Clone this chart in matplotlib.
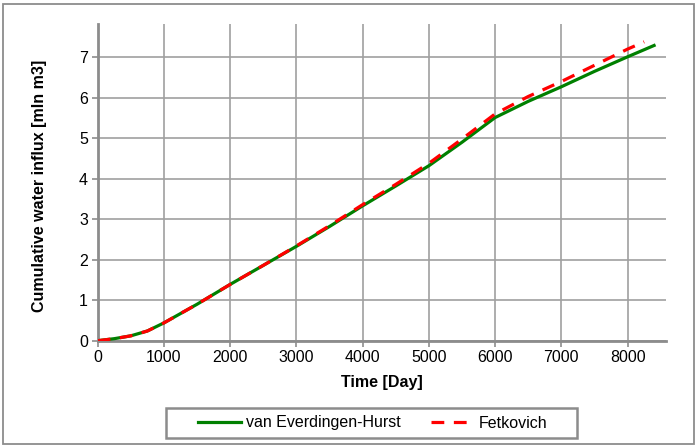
import matplotlib
matplotlib.use("Agg")
import matplotlib.pyplot as plt
from matplotlib.patches import Rectangle

plt.rcParams['font.family'] = ['Liberation Sans', 'DejaVu Sans']

# Data
veh_time = [0, 250, 500, 750, 1000, 1500, 2000, 2500, 3000, 3500, 4000, 4500,
            5000, 5500, 6000, 6500, 7000, 7500, 8000, 8400]
veh_influx = [0.0, 0.05, 0.12, 0.24, 0.44, 0.90, 1.39, 1.86, 2.33, 2.82, 3.33, 3.82,
              4.32, 4.90, 5.51, 5.91, 6.27, 6.65, 7.01, 7.29]
fet_time = [0, 250, 500, 750, 1000, 1500, 2000, 2500, 3000, 3500, 4000, 4500,
            5000, 5500, 6000, 6500, 7000, 7500, 8000, 8250]
fet_influx = [0.0, 0.05, 0.12, 0.24, 0.44, 0.90, 1.39, 1.86, 2.34, 2.84, 3.36, 3.86,
              4.38, 4.98, 5.60, 6.03, 6.40, 6.80, 7.20, 7.38]
x_ticks = [0, 1000, 2000, 3000, 4000, 5000, 6000, 7000, 8000]
y_ticks = [0, 1, 2, 3, 4, 5, 6, 7]
series_names = ["van Everdingen-Hurst", "Fetkovich"]

FS = 11.5
W, H = 696, 447
fig = plt.figure(figsize=(W / 100, H / 100), dpi=100)
fig.patches.append(Rectangle((3 / W, 3 / H), (W - 5) / W, (H - 7) / H,
                             transform=fig.transFigure, fill=False,
                             edgecolor='#8c8c8c', linewidth=1.3))

left, right, top, bottom = 97.7, 666, 24, 340.7
ax = fig.add_axes([left / W, (H - bottom) / H, (right - left) / W, (bottom - top) / H])

ax.plot(veh_time, veh_influx, color='#008000', lw=2.3, label=series_names[0], zorder=3)
ax.plot(fet_time, fet_influx, color='#ff0000', lw=2.3, dashes=(4, 3),
        label=series_names[1], zorder=4)

ax.set_xlim(0, 8580)
ax.set_ylim(0, 7.82)
ax.set_xticks(x_ticks)
ax.set_yticks(y_ticks)
ax.grid(True, color='#a0a0a0', lw=1.2)
ax.set_axisbelow(True)
for s in ['top', 'right']:
    ax.spines[s].set_visible(False)
for s in ['left', 'bottom']:
    ax.spines[s].set_color('#8c8c8c')
    ax.spines[s].set_linewidth(2)
ax.tick_params(axis='both', length=4, width=1.2, color='#8c8c8c', labelsize=FS,
               labelcolor='black', pad=3)
ax.set_xlabel('Time [Day]', fontsize=FS, fontweight='bold')
ax.set_ylabel('Cumulative water influx [mln m3]', fontsize=FS, fontweight='bold')
ax.xaxis.set_label_coords((382 - left) / (right - left), (bottom - 375.5) / (bottom - top))
ax.yaxis.set_label_coords((47 - left) / (right - left), (bottom - 185.5) / (bottom - top))

# legend frame drawn as a figure rectangle
lx0, lx1, ly0, ly1 = 166, 577, 408, 438
fig.patches.append(Rectangle((lx0 / W, (H - ly1) / H), (lx1 - lx0) / W, (ly1 - ly0) / H,
                             transform=fig.transFigure, fill=False,
                             edgecolor='#8c8c8c', linewidth=1.8))
leg = fig.legend(loc='center', bbox_to_anchor=(373 / W, (H - 423) / H),
                 ncol=2, fontsize=FS, frameon=False,
                 handlelength=2.7, handletextpad=0.3, columnspacing=1.9,
                 borderpad=0.0)

fig.savefig('out.png', dpi=100)
